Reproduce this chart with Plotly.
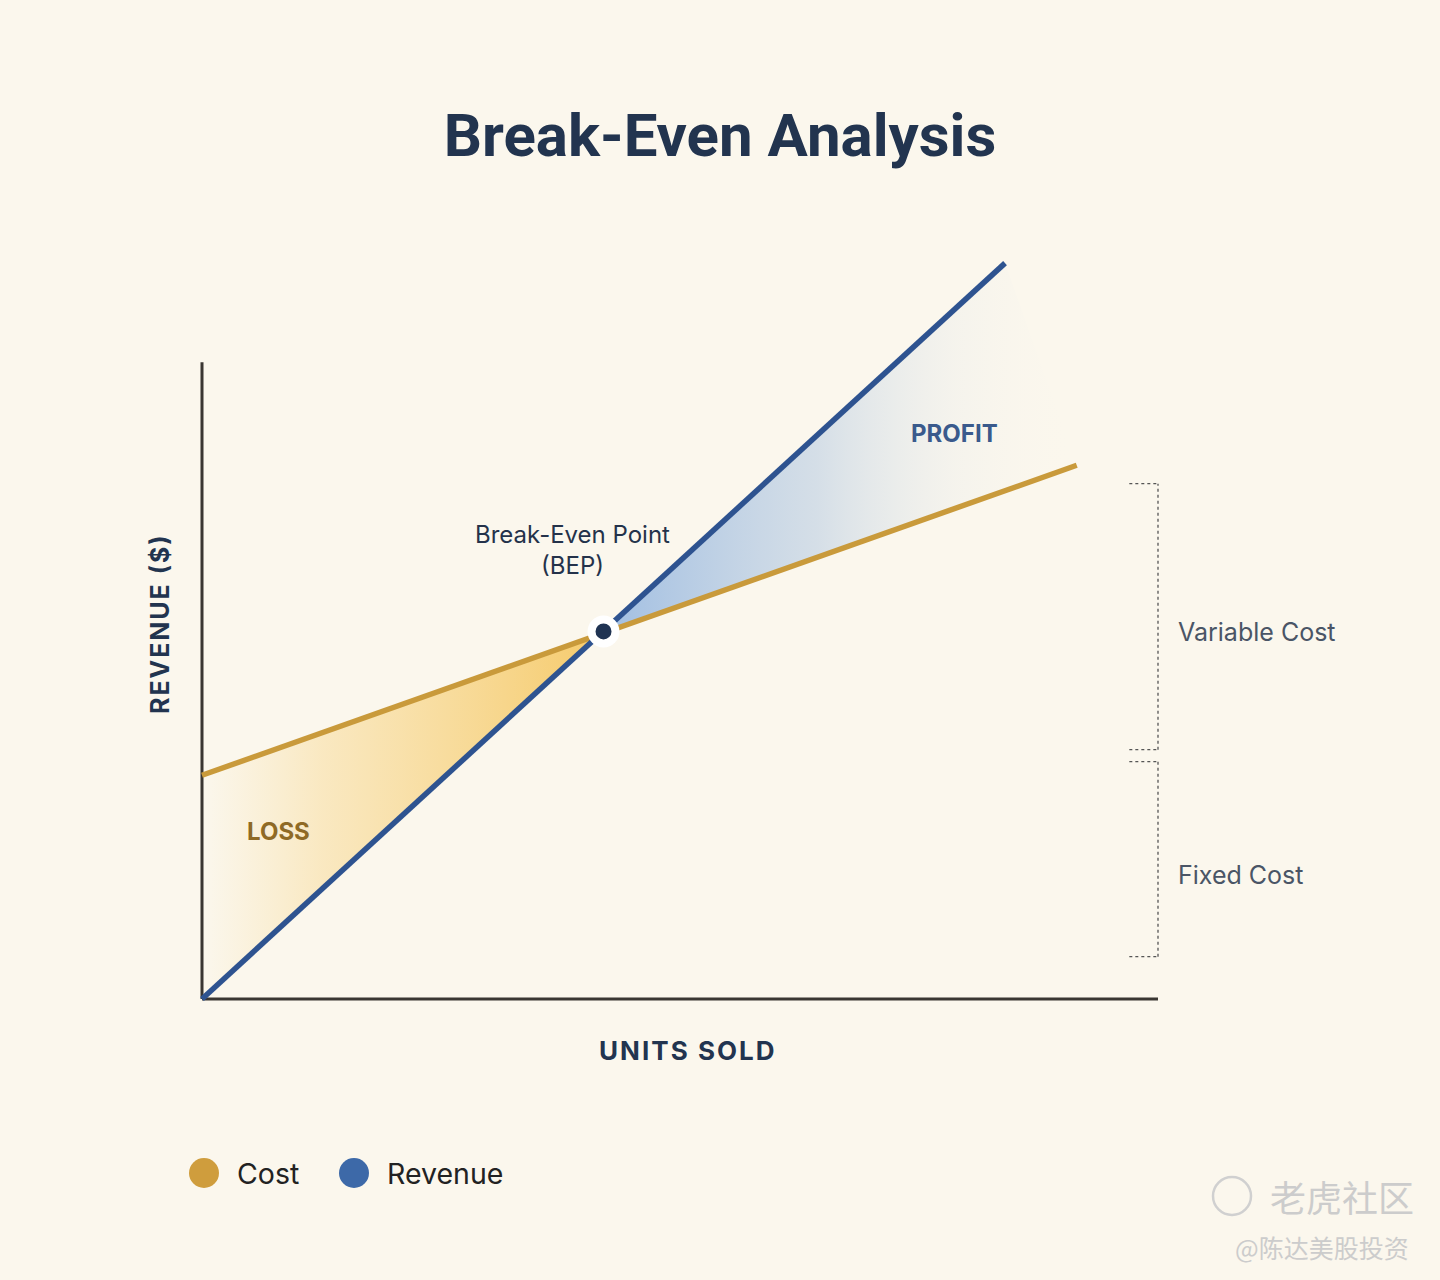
import plotly.graph_objects as go

W, H = 1440, 1280

# ---------------- data (units sold 0-100, $ 0-100) ----------------
units_revenue = [0, 84]
revenue = [0, 92.1]
units_cost = [0, 91.5]
cost = [28, 66.8]
bep_units = [42]
bep_value = [46]
axis_x_max = 100
axis_y_max = 79.7
variable_bracket = [31.2, 64.5]
fixed_bracket = [5.3, 29.7]
bracket_x = [97, 100]
legend_names = ["Cost", "Revenue"]

# ---------------- styles ----------------
BG = "#fbf7ed"
COST_C = "#c99a3b"
REV_C = "#2e5390"
NAVY = "#22344f"
FONT = "Inter, Noto Sans, sans-serif"

# axis origin / scale in pixels
X0, Y0 = 202, 999          # pixel position of data (0, 0)
SX, SY = 9.56, 7.99        # pixels per data unit
PAD = 20
L, R, T, B = X0 - PAD, W - (X0 + 100 * SX) - PAD, 200, H - Y0 - PAD
PW, PH = W - L - R, H - T - B
x_range = [-PAD / SX, 100 + PAD / SX]
y_range = [-PAD / SY, (Y0 - T) / SY]


def px(x):
    return (x - L) / PW


def py(y):
    return (H - B - y) / PH


fig = go.Figure()

# loss region (between cost and revenue, left of BEP)
loss_x = [units_cost[0], bep_units[0], units_revenue[0], units_cost[0]]
loss_y = [cost[0], bep_value[0], revenue[0], cost[0]]
fig.add_trace(go.Scatter(
    x=loss_x, y=loss_y, mode="none", fill="toself", showlegend=False,
    hoverinfo="skip",
    fillgradient=dict(type="horizontal", colorscale=[
        [0, "rgba(247,212,130,0.0)"],
        [0.3, "rgba(247,208,120,0.38)"],
        [1, "rgba(245,200,100,0.95)"]]),
))

# profit region (between revenue and cost, right of BEP)
profit_x = [bep_units[0], units_revenue[1], units_cost[1], bep_units[0]]
profit_y = [bep_value[0], revenue[1], cost[1], bep_value[0]]
fig.add_trace(go.Scatter(
    x=profit_x, y=profit_y, mode="none", fill="toself", showlegend=False,
    hoverinfo="skip",
    fillgradient=dict(type="horizontal", colorscale=[
        [0, "rgba(160,190,226,1)"],
        [0.45, "rgba(192,209,228,0.65)"],
        [0.75, "rgba(228,233,236,0.25)"],
        [1, "rgba(251,247,237,0.0)"]]),
))

fig.add_trace(go.Scatter(
    x=units_cost, y=cost, mode="lines", name="Cost", showlegend=False,
    line=dict(color=COST_C, width=5.5),
))
fig.add_trace(go.Scatter(
    x=units_revenue, y=revenue, mode="lines", name="Revenue", showlegend=False,
    line=dict(color=REV_C, width=5.5),
))
fig.add_trace(go.Scatter(
    x=bep_units, y=bep_value, mode="markers", showlegend=False,
    marker=dict(size=24, color="#1f3352", line=dict(color="#ffffff", width=8)),
))

shapes = []
# axes
shapes.append(dict(type="line", xref="x", yref="y", x0=0, y0=0, x1=axis_x_max, y1=0,
                   line=dict(color="#3a3632", width=3), layer="below"))
shapes.append(dict(type="line", xref="x", yref="y", x0=0, y0=0, x1=0, y1=axis_y_max,
                   line=dict(color="#3a3632", width=3), layer="below"))
# brackets
for lo, hi in (variable_bracket, fixed_bracket):
    for yv in (lo, hi):
        shapes.append(dict(type="line", xref="x", yref="y", x0=bracket_x[0], x1=bracket_x[1],
                           y0=yv, y1=yv, line=dict(color="#555555", width=1.3, dash="dot")))
    shapes.append(dict(type="line", xref="x", yref="y", x0=bracket_x[1], x1=bracket_x[1],
                       y0=lo, y1=hi, line=dict(color="#555555", width=1.3, dash="dot")))

# manual legend markers
legend_colors = ["#cf9d3d", "#3d69a8"]
legend_cx = [204, 354]
legend_cy = 1173
r = 15
for cx, c in zip(legend_cx, legend_colors):
    shapes.append(dict(type="circle", xref="paper", yref="paper",
                       x0=px(cx - r), x1=px(cx + r), y0=py(legend_cy + r), y1=py(legend_cy - r),
                       fillcolor=c, line=dict(width=0)))
# watermark icon
shapes.append(dict(type="circle", xref="paper", yref="paper",
                   x0=px(1213), x1=px(1251), y0=py(1215), y1=py(1177),
                   line=dict(color="#d0d0d0", width=2.5)))

ann = []


def add_text(text, x, y, size, color, weight="normal", xanchor="center", angle=0,
             family=FONT, xref="paper", yref="paper"):
    ann.append(dict(text=text, x=x, y=y, xref=xref, yref=yref, showarrow=False,
                    xanchor=xanchor, yanchor="middle", textangle=angle,
                    font=dict(size=size, color=color, family=family, weight=weight)))


add_text("Break-Even Point<br>(BEP)", 38.8, 56.2, 24, "#24324a", xref="x", yref="y")
add_text("PROFIT", 78.7, 70.8, 24, "#3a5a8c", weight="bold", xref="x", yref="y")
add_text("LOSS", 8.05, 21.0, 24, "#8f6a25", weight="bold", xref="x", yref="y")
add_text("Variable Cost", px(1176), py(632), 25, "#4a5566", xanchor="left")
add_text("Fixed Cost", px(1176), py(875), 25, "#4a5566", xanchor="left")

sp = "\u200a"
add_text(sp.join("REVENUE ($)"), px(160), py(625), 25, NAVY, weight="bold", angle=-90)
add_text(sp.join("UNITS SOLD"), px(687), py(1050), 26, NAVY, weight="bold")

for name, cx in zip(legend_names, legend_cx):
    add_text(name, px(cx + 31), py(legend_cy), 28.5, "#222222", xanchor="left")

add_text("老虎社区", px(1268), py(1196), 36, "#cccccc", xanchor="left",
         family="Noto Sans CJK SC")
add_text("@陈达美股投资", px(1233), py(1247), 25, "#cccccc", xanchor="left",
         family="Noto Sans CJK SC")

fig.update_layout(
    width=W, height=H,
    paper_bgcolor=BG, plot_bgcolor=BG,
    margin=dict(l=L, r=R, t=T, b=B),
    xaxis=dict(range=x_range, visible=False, fixedrange=True),
    yaxis=dict(range=y_range, visible=False, fixedrange=True),
    title=dict(text="Break-Even Analysis", x=0.5, xref="container", xanchor="center",
               y=1 - 135 / H, yref="container", yanchor="middle",
               font=dict(family="Roboto, sans-serif",
                         size=60, color=NAVY, weight="bold")),
    shapes=shapes,
    annotations=ann,
    showlegend=False,
)

fig.write_html("out.html", post_script="document.body.style.margin='0px';",
               config={"displayModeBar": False})
